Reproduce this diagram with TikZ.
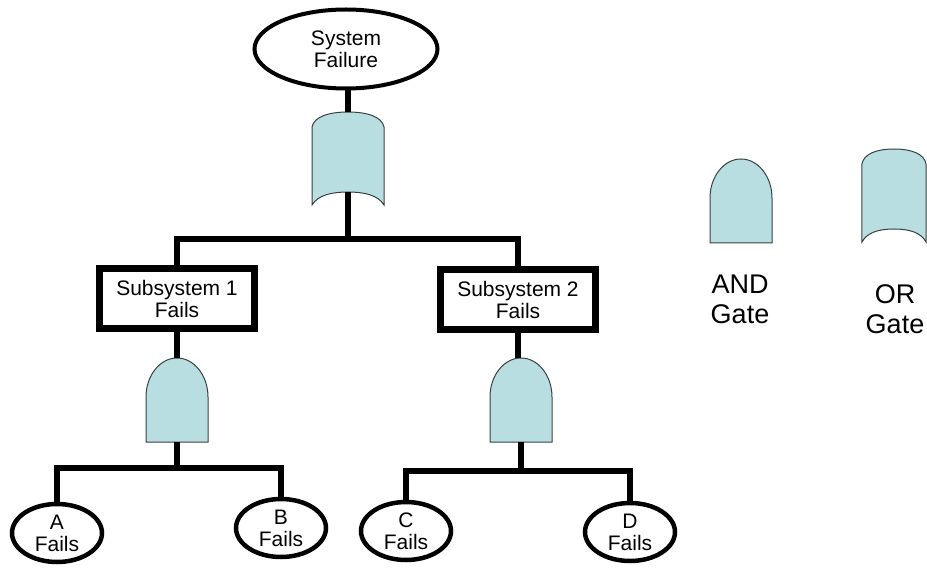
\documentclass[tikz,border=0pt]{standalone}
\usepackage{fontspec}
\setmainfont{Liberation Sans}
\usetikzlibrary{shapes.geometric}
\definecolor{gatefill}{RGB}{185,222,225}
\definecolor{gateline}{RGB}{55,65,65}
\begin{document}
\begin{tikzpicture}[x=1pt,y=-1pt,
  txt/.style={font=\fontsize{21}{22}\selectfont, align=center, text=black},
  legtxt/.style={font=\fontsize{27}{30}\selectfont, align=center, inner sep=0pt, text=black},
  event/.style={ellipse, draw, line width=4.5pt, inner sep=0pt, minimum width=90pt, minimum height=58pt, txt},
  topevent/.style={ellipse, draw, line width=4pt, inner sep=0pt, minimum width=183pt, minimum height=79pt, txt},
  subbox/.style={rectangle, draw, line width=7pt, inner sep=0pt, minimum width=155pt, minimum height=60pt, txt},
  conn/.style={line width=5.5pt, line join=miter},
  gate/.style={fill=gatefill, draw=gateline, line width=1pt},
  pics/andgate/.style={code={
    \filldraw[gate] (-31,42) -- (-31,-3) .. controls (-31,-24.5) and (-17,-42) .. (0,-42)
      .. controls (17,-42) and (31,-24.5) .. (31,-3) -- (31,42) -- cycle;
    \coordinate (-top) at (0,-42);
    \coordinate (-bot) at (0,42);
  }},
  pics/orgate/.style={code={
    \filldraw[gate] (-36,46) -- (-36,-32) .. controls (-34,-42) and (-20,-47) .. (0,-47)
      .. controls (20,-47) and (34,-42) .. (36,-32) -- (36,46)
      .. controls (30,36) and (16,33) .. (0,33)
      .. controls (-16,33) and (-30,36) .. (-36,46) -- cycle;
    \coordinate (-top) at (0,-47);
    \coordinate (-bot) at (0,33);
  }}
]
\useasboundingbox (0,0) rectangle (927,569);

% events
\node[topevent] (sys) at (346,49) {System\\Failure};
\node[subbox] (s1) at (177,299) {Subsystem 1\\Fails};
\node[subbox] (s2) at (518,300) {Subsystem 2\\Fails};
\node[event] (a) at (57,533) {A\\Fails};
\node[event] (b) at (281,528) {B\\Fails};
\node[event] (c) at (406,531) {C\\Fails};
\node[event] (d) at (630,532) {D\\Fails};

% gates
\pic (og) at (348,159) {orgate};
\pic (g1) at (177,400) {andgate};
\pic (g2) at (521,400) {andgate};

% junctions
\coordinate (j0) at (348,239);
\coordinate (j1) at (177,468);
\coordinate (j2) at (521,471);

% connectors
\draw[conn] (og-top) -- (og-top |- sys.south);
\draw[conn] (og-bot) -- (j0);
\draw[conn] (s1.north) |- (j0) -| (s2.north);
\draw[conn] (s1.south) -- (g1-top);
\draw[conn] (s2.south) -- (s2.south |- g2-top);
\draw[conn] (g1-bot) -- (j1);
\draw[conn] (a.north) |- (j1) -| (b.north);
\draw[conn] (g2-bot) -- (j2);
\draw[conn] (c.north) |- (j2) -| (d.north);

% legend
\pic (lg) at (741,201) {andgate};
\pic[xscale=0.89] (lo) at (894,196) {orgate};
\node[legtxt] (landt) at (740,299) {AND\\Gate};
\node[legtxt] (lort) at (895,309) {OR\\Gate};
\end{tikzpicture}
\end{document}
